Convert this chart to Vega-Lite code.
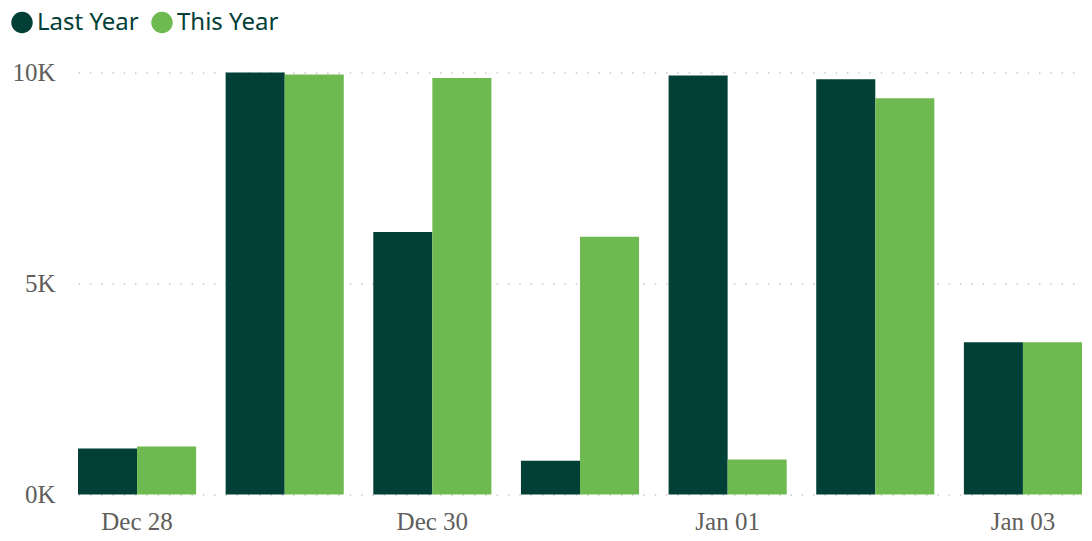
{
  "$schema": "https://vega.github.io/schema/vega-lite/v6.json",
  "width": 1004,
  "height": 422,
  "autosize": "none",
  "padding": {"left": 78, "top": 72.5, "right": 10, "bottom": 46.5},
  "data": {
    "values": [
      {"day": "Dec 28", "series": "Last Year", "value": 1090},
      {"day": "Dec 28", "series": "This Year", "value": 1140},
      {"day": "Dec 29", "series": "Last Year", "value": 10000},
      {"day": "Dec 29", "series": "This Year", "value": 9950},
      {"day": "Dec 30", "series": "Last Year", "value": 6220},
      {"day": "Dec 30", "series": "This Year", "value": 9870},
      {"day": "Dec 31", "series": "Last Year", "value": 800},
      {"day": "Dec 31", "series": "This Year", "value": 6110},
      {"day": "Jan 01", "series": "Last Year", "value": 9930},
      {"day": "Jan 01", "series": "This Year", "value": 830},
      {"day": "Jan 02", "series": "Last Year", "value": 9840},
      {"day": "Jan 02", "series": "This Year", "value": 9390},
      {"day": "Jan 03", "series": "Last Year", "value": 3610},
      {"day": "Jan 03", "series": "This Year", "value": 3610}
    ]
  },
  "mark": {"type": "bar"},
  "encoding": {
    "x": {
      "field": "day",
      "type": "nominal",
      "sort": null,
      "title": null,
      "scale": {"paddingInner": 0.2, "paddingOuter": 0},
      "axis": {
        "labelExpr": "indexof(['Dec 28','Dec 30','Jan 01','Jan 03'], datum.label) >= 0 ? datum.label : ''",
        "labelAngle": 0,
        "labelFont": "Liberation Serif",
        "labelFontSize": 25,
        "labelColor": "#605E5C",
        "labelPadding": 15,
        "ticks": false,
        "domain": false,
        "grid": false
      }
    },
    "xOffset": {
      "field": "series",
      "sort": ["Last Year", "This Year"],
      "scale": {"paddingInner": 0, "paddingOuter": 0}
    },
    "y": {
      "field": "value",
      "type": "quantitative",
      "title": null,
      "scale": {"domain": [0, 10000]},
      "axis": {
        "values": [0, 5000, 10000],
        "labelExpr": "datum.value / 1000 + 'K'",
        "labelFont": "Liberation Serif",
        "labelFontSize": 25,
        "labelColor": "#605E5C",
        "labelPadding": 23,
        "ticks": false,
        "domain": false,
        "grid": true,
        "gridColor": "#C8C8C8",
        "gridDash": [1.5, 9.8],
        "gridWidth": 1.5
      }
    },
    "color": {
      "field": "series",
      "type": "nominal",
      "scale": {"domain": ["Last Year", "This Year"], "range": ["#023F37", "#6EBA50"]},
      "legend": {
        "title": null,
        "orient": "none",
        "legendX": -68,
        "legendY": -62,
        "direction": "horizontal",
        "symbolType": "circle",
        "symbolSize": 460,
        "symbolStrokeWidth": 0,
        "labelFont": "Noto Sans",
        "labelFontSize": 24,
        "labelColor": "#024037",
        "labelOffset": 3,
        "columnPadding": 11
      }
    }
  },
  "config": {"view": {"stroke": null}}
}
